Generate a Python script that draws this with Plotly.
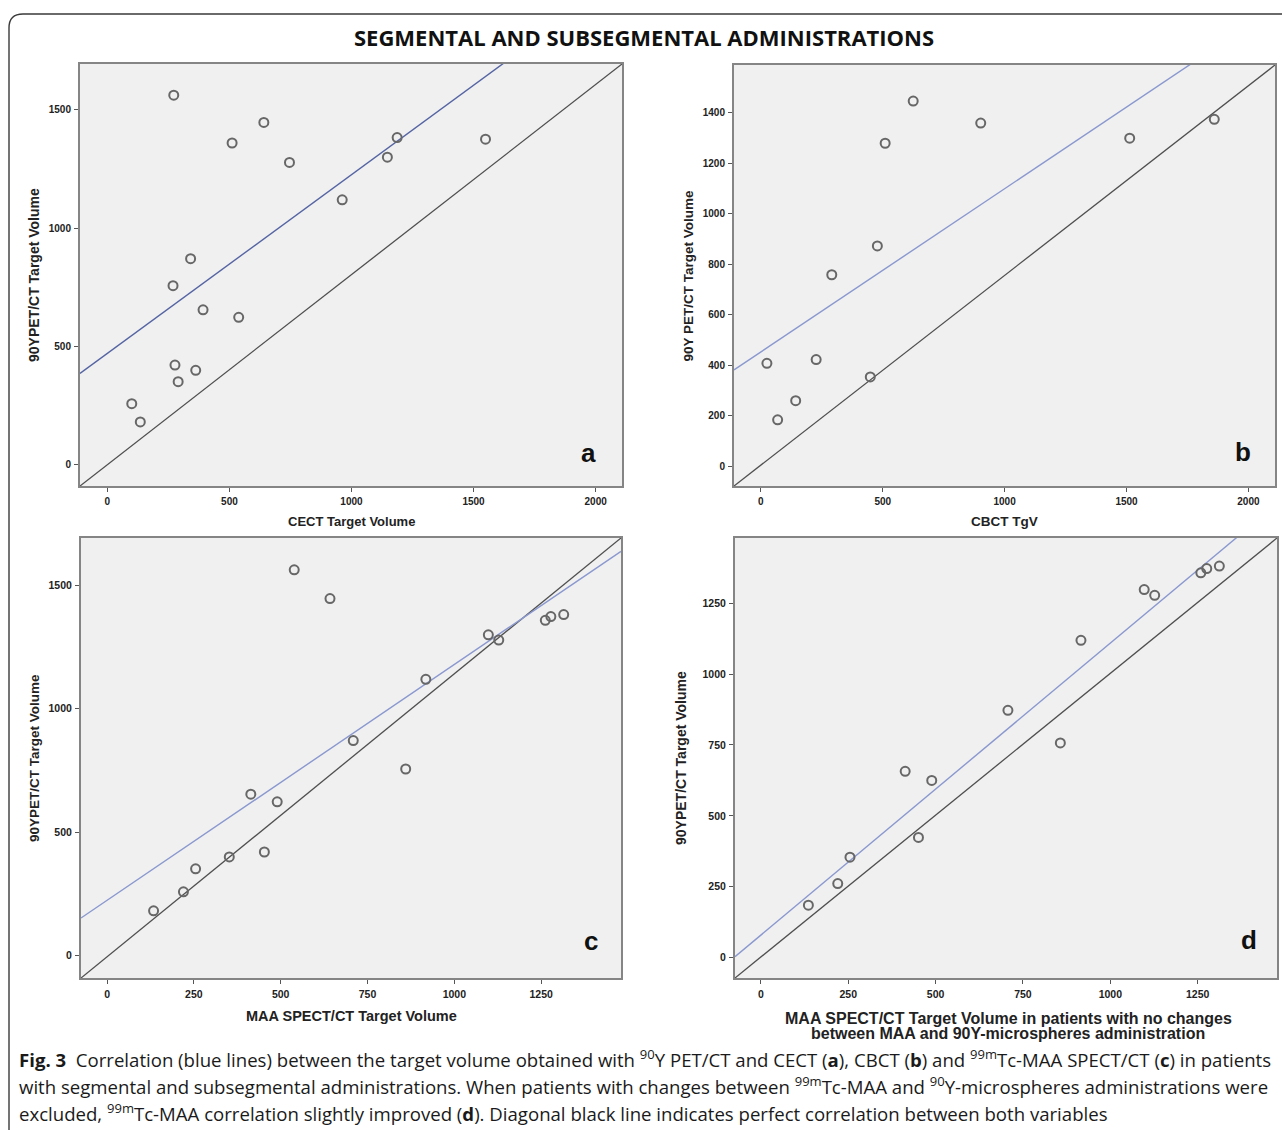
import numpy as np
import plotly.graph_objects as go

W, H = 1282, 1130

# ---------------- data ----------------
a_x = [272, 641, 511, 746, 1147, 1187, 1549, 962, 341, 269, 392, 538, 277, 362, 290, 100, 135]
a_y = [1562, 1447, 1360, 1278, 1300, 1383, 1376, 1120, 871, 757, 655, 623, 421, 399, 351, 258, 181]

b_x = [25, 69, 143, 227, 291, 449, 478, 510, 625, 902, 1513, 1860]
b_y = [407, 183, 259, 422, 758, 353, 872, 1279, 1446, 1359, 1299, 1374]

c_x = [539, 642, 1262, 1278, 1315, 1098, 1128, 918, 709, 860, 414, 490, 453, 352, 255, 220, 134]
c_y = [1562, 1446, 1358, 1373, 1381, 1299, 1278, 1119, 871, 756, 654, 623, 420, 400, 352, 259, 182]

d_x = [136, 220, 255, 413, 451, 489, 707, 857, 916, 1097, 1127, 1259, 1276, 1312]
d_y = [185, 261, 354, 657, 424, 625, 872, 757, 1119, 1298, 1278, 1357, 1372, 1381]

# axis ranges and ticks
a_xrange = [-112, 2108]; a_yrange = [-90, 1694]
b_xrange = [-110, 2109]; b_yrange = [-79, 1589]
c_xrange = [-75, 1480];  c_yrange = [-90, 1691]
d_xrange = [-74, 1477];  d_yrange = [-72, 1480]

a_xticks = [0, 500, 1000, 1500, 2000]; a_yticks = [0, 500, 1000, 1500]
b_xticks = [0, 500, 1000, 1500, 2000]; b_yticks = [0, 200, 400, 600, 800, 1000, 1200, 1400]
c_xticks = [0, 250, 500, 750, 1000, 1250]; c_yticks = [0, 500, 1000, 1500]
d_xticks = [0, 250, 500, 750, 1000, 1250]; d_yticks = [0, 250, 500, 750, 1000, 1250]

a_xtitle = ["CECT Target Volume"]
b_xtitle = ["CBCT TgV"]
c_xtitle = ["MAA SPECT/CT Target Volume"]
d_xtitle = ["MAA SPECT/CT Target Volume in patients with no changes",
            "between MAA and 90Y-microspheres administration"]
a_ytitle = "90YPET/CT Target Volume"
b_ytitle = "90Y PET/CT Target Volume"
c_ytitle = "90YPET/CT Target Volume"
d_ytitle = "90YPET/CT Target Volume"
panel_letters = ["a", "b", "c", "d"]

title_text = "SEGMENTAL AND SUBSEGMENTAL ADMINISTRATIONS"
caption_lines = [
    "<b>Fig. 3</b>  Correlation (blue lines) between the target volume obtained with <sup>90</sup>Y PET/CT and CECT (<b>a</b>), CBCT (<b>b</b>) and <sup>99m</sup>Tc-MAA SPECT/CT (<b>c</b>) in patients",
    "with segmental and subsegmental administrations. When patients with changes between <sup>99m</sup>Tc-MAA and <sup>90</sup>Y-microspheres administrations were",
    "excluded, <sup>99m</sup>Tc-MAA correlation slightly improved (<b>d</b>). Diagonal black line indicates perfect correlation between both variables",
]

# ---------------- layout helpers (pixel boxes -> paper) ----------------
def px(x):
    return x / W

def py(y):
    return 1 - y / H

boxes = {  # left, top, right, bottom in pixels
    "a": (80, 64, 622, 486),
    "b": (734, 65, 1275, 486),
    "c": (81, 538, 621, 978),
    "d": (735, 538, 1277, 978),
}

# key, x, y, xrange, yrange, xticks, yticks, xtitle lines, ytitle, blue colour, xtitle size, ytitle size, tick size
panels = [
    ("a", a_x, a_y, a_xrange, a_yrange, a_xticks, a_yticks, a_xtitle, a_ytitle, "#5564a3", 13, 14, 10),
    ("b", b_x, b_y, b_xrange, b_yrange, b_xticks, b_yticks, b_xtitle, b_ytitle, "#8a98cf", 13.5, 13.5, 10),
    ("c", c_x, c_y, c_xrange, c_yrange, c_xticks, c_yticks, c_xtitle, c_ytitle, "#8a98cf", 14.5, 13.5, 10.5),
    ("d", d_x, d_y, d_xrange, d_yrange, d_xticks, d_yticks, d_xtitle, d_ytitle, "#8a98cf", 16, 14, 10.5),
]
xtitle_y = {"a": [521], "b": [521], "c": [1016], "d": [1018, 1033]}

fig = go.Figure()
annotations = []
layout_axes = {}

lab_font = "Arial, Liberation Sans, sans-serif"
tick_font = "Liberation Sans Narrow, Arial Narrow, Arial, Liberation Sans, sans-serif"

for i, (key, xs, ys, xr, yr, xt, yt, xtitle, ytitle, bcol, tsize, ysize, ksize) in enumerate(panels):
    n = i + 1
    xa = "x" if n == 1 else f"x{n}"
    ya = "y" if n == 1 else f"y{n}"
    l, t, r, b = boxes[key]

    # diagonal reference line (corner to corner of the plot box)
    fig.add_trace(go.Scatter(x=[xr[0], xr[1]], y=[yr[0], yr[1]], mode="lines",
                             line=dict(color="#4f4f4f", width=1.3),
                             xaxis=xa, yaxis=ya, showlegend=False, hoverinfo="skip"))
    # regression line
    slope, icpt = np.polyfit(np.array(xs, float), np.array(ys, float), 1)
    lx = np.array(xr, float)
    fig.add_trace(go.Scatter(x=lx, y=icpt + slope * lx, mode="lines",
                             line=dict(color=bcol, width=1.4),
                             xaxis=xa, yaxis=ya, showlegend=False, hoverinfo="skip"))
    # points
    fig.add_trace(go.Scatter(x=xs, y=ys, mode="markers",
                             marker=dict(symbol="circle-open", size=9, color="#676767",
                                         line=dict(color="#676767", width=2)),
                             xaxis=xa, yaxis=ya, showlegend=False))

    axcommon = dict(showgrid=False, zeroline=False, showline=True, mirror=True,
                    linecolor="#858585", linewidth=2, ticks="outside", ticklen=4,
                    tickwidth=1.4, tickcolor="#555555",
                    tickfont=dict(family=tick_font, size=ksize, color="#222222", weight="bold"))
    layout_axes["xaxis" if n == 1 else f"xaxis{n}"] = dict(
        axcommon, domain=[px(l), px(r)], range=xr, tickvals=xt,
        anchor=ya, ticklabelstandoff=1)
    layout_axes["yaxis" if n == 1 else f"yaxis{n}"] = dict(
        axcommon, domain=[py(b), py(t)], range=yr, tickvals=yt,
        anchor=xa, ticklabelstandoff=1)

    # axis titles
    cx = (l + r) / 2
    cy = (t + b) / 2
    for line, ty in zip(xtitle, xtitle_y[key]):
        annotations.append(dict(text=f"<b>{line}</b>", x=px(cx + (2 if key == "d" else 0)), y=py(ty),
                                xref="paper", yref="paper", showarrow=False,
                                font=dict(family=lab_font, size=tsize, color="#222222"),
                                xanchor="center", yanchor="middle"))
    yx = {"a": 34, "b": 688, "c": 34, "d": 681}[key]
    annotations.append(dict(text=f"<b>{ytitle}</b>", x=px(yx), y=py(cy),
                            xref="paper", yref="paper", showarrow=False, textangle=-90,
                            font=dict(family=lab_font, size=ysize, color="#222222"),
                            xanchor="center", yanchor="middle"))
    # panel letter
    lp = {"a": (588, 453), "b": (1243, 452), "c": (591, 941), "d": (1249, 940)}[key]
    annotations.append(dict(text=f"<b>{panel_letters[i]}</b>", x=px(lp[0]), y=py(lp[1]),
                            xref="paper", yref="paper", showarrow=False,
                            font=dict(family=lab_font, size=26, color="#111111"),
                            xanchor="center", yanchor="middle"))

# main title
annotations.append(dict(text=f"<b>{title_text}</b>", x=px(644), y=py(37),
                        xref="paper", yref="paper", showarrow=False,
                        font=dict(family="Open Sans, Noto Sans, sans-serif", size=22, color="#111111"),
                        xanchor="center", yanchor="middle"))

# caption
cap_y = [1058, 1085, 1112]
for line, yy in zip(caption_lines, cap_y):
    annotations.append(dict(text=line, x=px(17), y=py(yy), xref="paper", yref="paper",
                            showarrow=False, xanchor="left", yanchor="middle", align="left",
                            font=dict(family="Open Sans, Noto Sans, sans-serif", size=18.6, color="#1a1a1a")))

# outer rounded frame (open on right/bottom as in the crop)
rx, ry = 14 / W, 14 / H
x0, y0 = px(9), py(14)
frame_path = (f"M {x0},{py(1200)} L {x0},{y0 - ry} Q {x0},{y0} {x0 + rx},{y0} "
              f"L {px(1300)},{y0}")
shapes = [dict(type="path", path=frame_path, xref="paper", yref="paper",
               line=dict(color="#3a3a3a", width=1.4))]

fig.update_layout(
    width=W, height=H, margin=dict(l=0, r=0, t=0, b=0),
    paper_bgcolor="white", plot_bgcolor="#f0f0f0",
    annotations=annotations, shapes=shapes, showlegend=False,
    **layout_axes,
)

fig.write_html("out.html", config={"displayModeBar": False},
               post_script="document.body.style.margin='0';document.body.style.overflow='hidden';")
